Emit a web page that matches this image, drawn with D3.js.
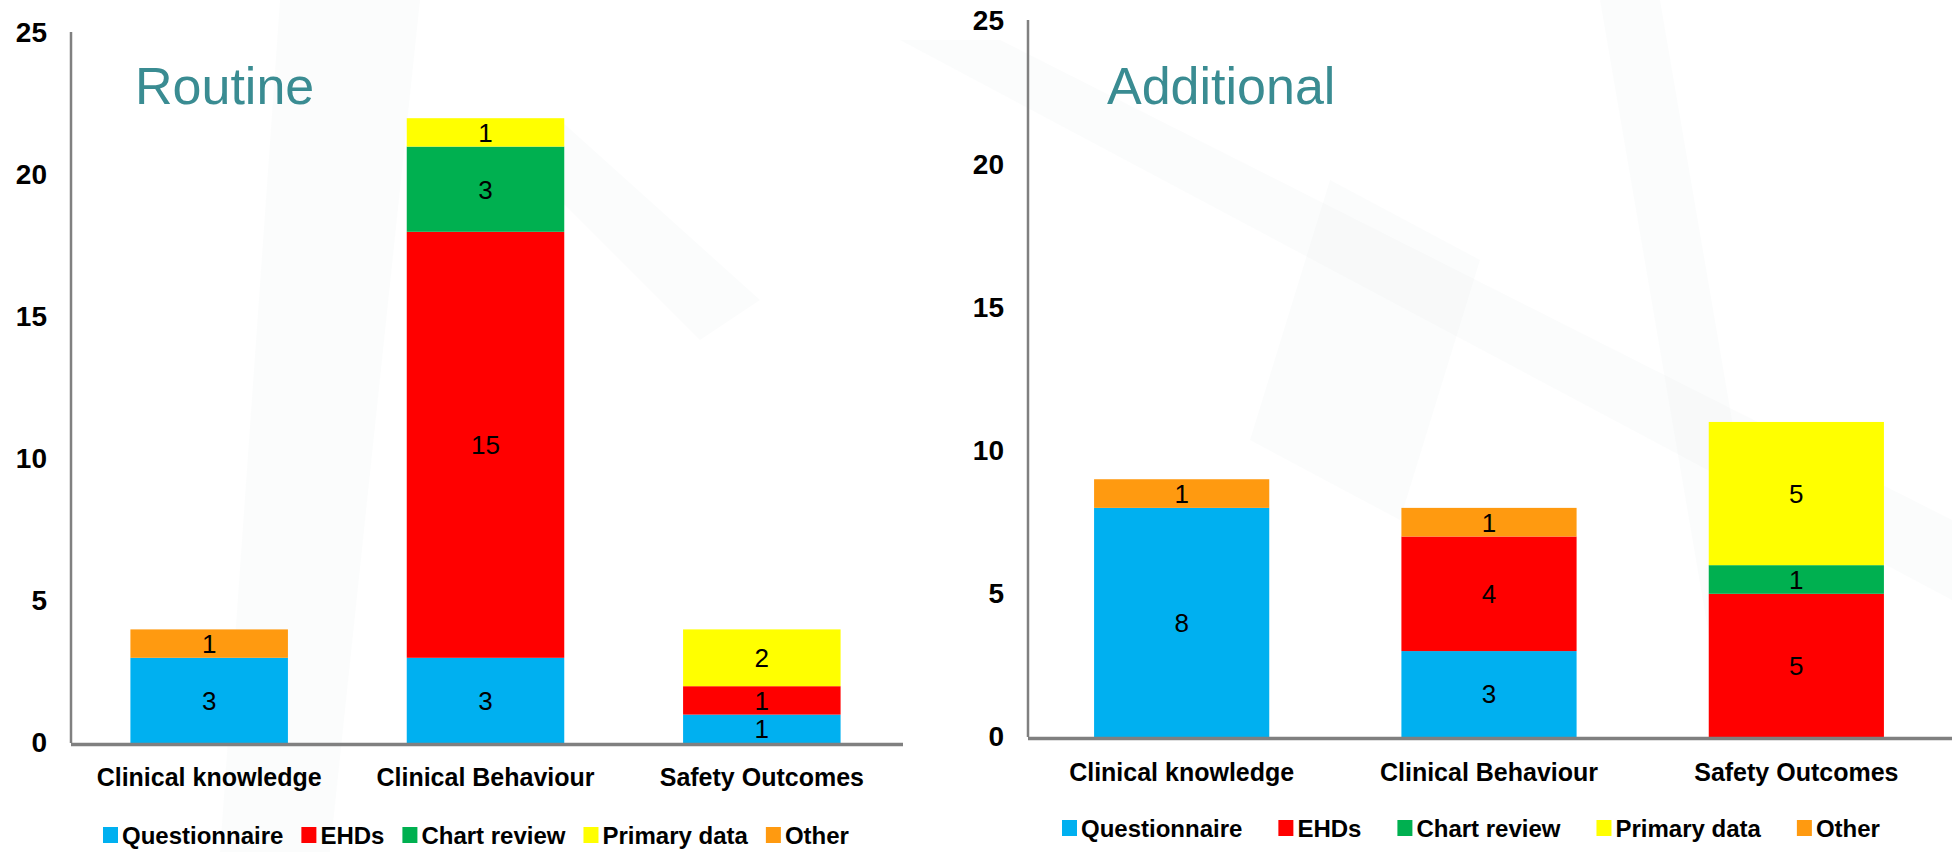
<!DOCTYPE html>
<html>
<head>
<meta charset="utf-8">
<script src="https://cdn.jsdelivr.net/npm/d3@7/dist/d3.min.js"></script>
<style>
  html, body { margin: 0; padding: 0; background: #ffffff; }
  svg { display: block; font-family: "Liberation Sans", Arial, sans-serif; }
</style>
</head>
<body>
<svg id="chart" width="1952" height="852"></svg>
<script>
// ---------- data ----------
const categories = ["Clinical knowledge", "Clinical Behaviour", "Safety Outcomes"];
const seriesNames = ["Questionnaire", "EHDs", "Chart review", "Primary data", "Other"];
const seriesColors = ["#00B0F0", "#FF0000", "#00B050", "#FFFF00", "#FF9A10"];
// values per series, in category order
const routineQuestionnaire = [3, 3, 1];
const routineEHDs          = [0, 15, 1];
const routineChartReview   = [0, 3, 0];
const routinePrimaryData   = [0, 1, 2];
const routineOther         = [1, 0, 0];
const additionalQuestionnaire = [8, 3, 0];
const additionalEHDs          = [0, 4, 5];
const additionalChartReview   = [0, 0, 1];
const additionalPrimaryData   = [0, 0, 5];
const additionalOther         = [1, 1, 0];
const yTicks = [0, 5, 10, 15, 20, 25];
const panelTitles = ["Routine", "Additional"];

const svg = d3.select("#chart");

// faint background watermark shapes
const bg = svg.append("g").attr("class", "watermark");
const wm = [
  [[280,0],[420,0],[330,852],[220,852]],
  [[900,40],[1000,40],[1952,520],[1952,600]],
  [[1600,0],[1660,0],[1780,700],[1720,700]],
  [[1330,180],[1480,260],[1400,520],[1250,440]],
  [[560,120],[760,300],[700,340],[520,160]]
];
bg.selectAll("polygon").data(wm).join("polygon")
  .attr("points", d => d.map(p => p.join(",")).join(" "))
  .attr("fill", "#eef0f3").attr("opacity", 0.22);

function buildTable(q, e, c, p, o) {
  return categories.map((cat, i) => ({
    category: cat,
    "Questionnaire": q[i], "EHDs": e[i], "Chart review": c[i],
    "Primary data": p[i], "Other": o[i]
  }));
}

const panels = [
  {
    title: panelTitles[0],
    table: buildTable(routineQuestionnaire, routineEHDs, routineChartReview, routinePrimaryData, routineOther),
    xRange: [71, 900], yRange: [743, 33], baseEnd: 903,
    titleX: 135, catY: 777, legendX: 103, legendY: 835, legendGap: 18
  },
  {
    title: panelTitles[1],
    table: buildTable(additionalQuestionnaire, additionalEHDs, additionalChartReview, additionalPrimaryData, additionalOther),
    xRange: [1028, 1950], yRange: [737, 21], baseEnd: 1952,
    titleX: 1107, catY: 772, legendX: 1062, legendY: 828, legendGap: 36
  }
];

const color = d3.scaleOrdinal().domain(seriesNames).range(seriesColors);

panels.forEach(pn => {
  const g = svg.append("g");
  const x = d3.scaleBand().domain(categories).range(pn.xRange).paddingInner(0.43).paddingOuter(0.215);
  const y = d3.scaleLinear().domain([0, 25]).range(pn.yRange);

  const stacked = d3.stack().keys(seriesNames)(pn.table);

  // bars
  const layers = g.selectAll("g.layer").data(stacked).join("g")
    .attr("class", "layer").attr("fill", d => color(d.key));
  layers.selectAll("rect").data(d => d.filter(s => s[1] - s[0] > 0)).join("rect")
    .attr("x", d => x(d.data.category))
    .attr("width", x.bandwidth())
    .attr("y", d => y(d[1]))
    .attr("height", d => y(d[0]) - y(d[1]));

  // value labels
  layers.selectAll("text").data(d => d.filter(s => s[1] - s[0] > 0)).join("text")
    .attr("x", d => x(d.data.category) + x.bandwidth() / 2)
    .attr("y", d => (y(d[0]) + y(d[1])) / 2)
    .attr("dy", "0.36em")
    .attr("text-anchor", "middle")
    .attr("font-size", 26)
    .attr("fill", "#000")
    .text(d => d[1] - d[0]);

  // y axis
  const yAxis = d3.axisLeft(y).tickValues(yTicks).tickSize(0).tickPadding(24);
  const ya = g.append("g").attr("transform", `translate(${pn.xRange[0]},0)`).call(yAxis);
  ya.select(".domain").attr("stroke", "#808080").attr("stroke-width", 2.5)
    .attr("d", `M0,${y(25) - 1}V${y(0)}`);
  ya.selectAll(".tick text").attr("font-size", 28).attr("font-weight", "bold")
    .attr("fill", "#000").attr("font-family", "Liberation Sans, Arial, sans-serif");

  // x axis baseline & labels
  const xAxis = d3.axisBottom(x).tickSize(0).tickPadding(0);
  const xa = g.append("g").attr("transform", `translate(0,${y(0)})`).call(xAxis);
  xa.select(".domain").attr("stroke", "#808080").attr("stroke-width", 3.5)
    .attr("d", `M${pn.xRange[0]},1.5H${pn.baseEnd}`);
  xa.selectAll(".tick text")
    .attr("y", pn.catY - y(0)).attr("dy", "0.35em")
    .attr("font-size", 25).attr("font-weight", "bold").attr("fill", "#000")
    .attr("font-family", "Liberation Sans, Arial, sans-serif");

  // panel title
  g.append("text").attr("x", pn.titleX).attr("y", 104)
    .attr("font-size", 52).attr("fill", "#3A8C92").text(pn.title);

  // legend
  const lg = g.append("g").attr("transform", `translate(${pn.legendX},${pn.legendY})`);
  let cx = 0;
  seriesNames.forEach(name => {
    const item = lg.append("g").attr("transform", `translate(${cx},0)`);
    item.append("rect").attr("x", 0).attr("y", -8).attr("width", 15).attr("height", 16).attr("fill", color(name));
    const t = item.append("text").attr("x", 19).attr("y", 0).attr("dy", "0.36em")
      .attr("font-size", 24).attr("font-weight", "bold").attr("fill", "#000").text(name);
    cx += 19 + t.node().getComputedTextLength() + pn.legendGap;
  });
});
</script>
</body>
</html>
